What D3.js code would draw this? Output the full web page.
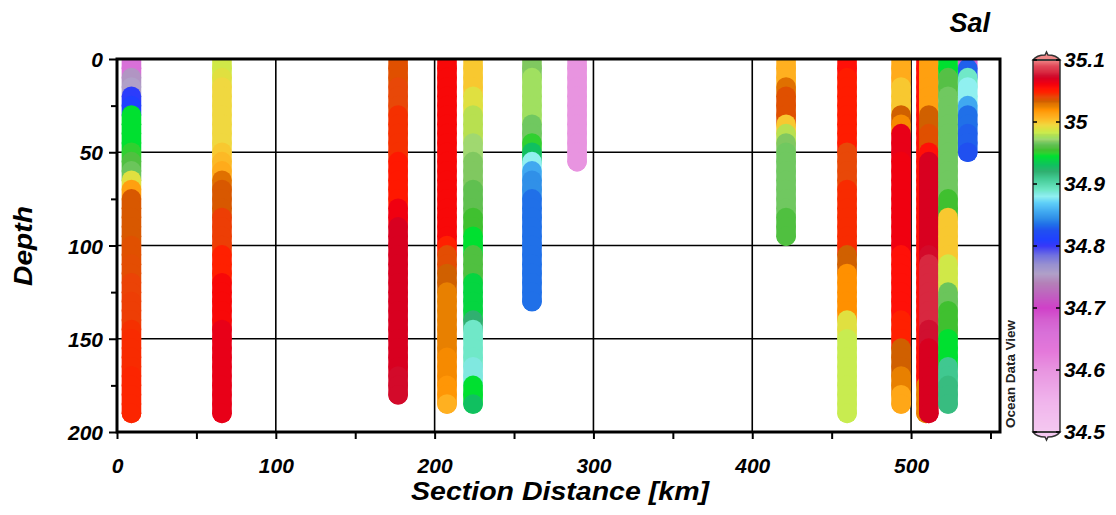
<!DOCTYPE html>
<html><head><meta charset="utf-8">
<script src="https://cdn.jsdelivr.net/npm/d3@7"></script>
<style>
html,body{margin:0;padding:0;background:#fff;}
text{font-family:"Liberation Sans",Arial,sans-serif;font-weight:bold;font-style:italic;fill:#000;}
</style></head><body>
<svg id="chart" width="1116" height="515"></svg>
<script>
// ---------- data ----------
const depthLevels = [0,5,10,15,20,25,30,35,40,45,50,55,60,65,70,75,80,85,90,95,100,105,110,115,120,125,130,135,140,145,150,155,160,165,170,175,180,185,190];
const stationKm = [9.1, 66.1, 177, 207.8, 224.2, 261.3, 289.7, 421.3, 459.7, 493.7, 509.4, 511.2, 523.3, 535.7];

const salSt1 = [34.66,34.66,34.75,34.755,34.805,34.81,34.945,34.945,34.945,34.945,34.95,34.958,34.965,34.99,35.015,35.035,35.035,35.035,35.035,35.035,35.037,35.037,35.038,35.038,35.041,35.041,35.042,35.042,35.042,35.045,35.046,35.046,35.046,35.046,35.047,35.047,35.047,35.047,35.047];
const salSt2 = [34.985,34.985,34.99,34.995,34.995,34.995,34.995,34.995,34.995,34.995,35.0,35.005,35.01,35.03,35.035,35.035,35.035,35.042,35.042,35.042,35.042,35.048,35.048,35.048,35.058,35.058,35.058,35.058,35.058,35.065,35.065,35.065,35.065,35.065,35.065,35.065,35.065,35.065,35.065];
const salSt3 = [35.037,35.037,35.037,35.04,35.04,35.04,35.045,35.045,35.045,35.045,35.045,35.052,35.052,35.052,35.052,35.052,35.062,35.062,35.07,35.07,35.07,35.07,35.07,35.07,35.07,35.07,35.07,35.07,35.07,35.07,35.07,35.07,35.07,35.07,35.073,35.073,35.073];
const salSt4 = [35.058,35.058,35.058,35.058,35.058,35.058,35.058,35.058,35.058,35.058,35.058,35.058,35.058,35.058,35.058,35.058,35.058,35.058,35.058,35.058,35.048,35.038,35.038,35.033,35.033,35.025,35.025,35.025,35.025,35.025,35.025,35.025,35.022,35.022,35.022,35.018,35.018,35.008];
const salSt5 = [35.0,35.0,35.0,35.0,34.99,34.99,34.98,34.98,34.98,34.972,34.972,34.968,34.968,34.968,34.963,34.963,34.963,34.955,34.955,34.945,34.945,34.958,34.958,34.958,34.94,34.94,34.94,34.94,34.92,34.89,34.89,34.89,34.89,34.885,34.885,34.945,34.945,34.93];
const salSt6 = [34.968,34.968,34.975,34.975,34.975,34.975,34.975,34.966,34.966,34.95,34.93,34.88,34.855,34.845,34.845,34.835,34.835,34.835,34.835,34.835,34.835,34.835,34.835,34.835,34.835,34.835,34.835];
const salSt7 = [34.6,34.6,34.6,34.6,34.6,34.6,34.6,34.6,34.6,34.6,34.6,34.6];
const salSt8 = [35.008,35.008,35.008,35.03,35.037,35.037,35.037,35.0,34.98,34.968,34.966,34.966,34.966,34.966,34.966,34.966,34.966,34.958,34.958,34.958];
const salSt9 = [35.055,35.055,35.05,35.05,35.05,35.05,35.05,35.05,35.05,35.05,35.04,35.04,35.04,35.04,35.046,35.046,35.046,35.046,35.046,35.046,35.046,35.033,35.033,35.02,35.02,35.02,35.02,35.02,34.99,34.99,34.982,34.982,34.982,34.982,34.982,34.982,34.982,34.982,34.982];
const salSt10 = [35.01,35.01,35.01,35.0,35.0,35.0,35.033,35.022,35.065,35.065,35.065,35.062,35.062,35.062,35.062,35.062,35.062,35.062,35.062,35.062,35.062,35.055,35.055,35.055,35.055,35.055,35.055,35.055,35.048,35.048,35.048,35.033,35.033,35.033,35.025,35.025,35.012,35.012];
const salSt11 = [35.055,35.055,35.055,35.055,35.055,35.055,35.055,35.055,35.055,35.055,35.055,35.055,35.055,35.055,35.055,35.055,35.055,35.055,35.055,35.055,35.055,35.055,35.055,35.055,35.055,35.055,35.055,35.055,35.055,35.055,35.055,35.055,35.055,35.055,35.055,35.025,35.025,35.025,35.025];
const salSt12 = [35.015,35.015,35.015,35.015,35.015,35.015,35.033,35.033,35.037,35.037,35.055,35.07,35.07,35.07,35.07,35.07,35.07,35.07,35.07,35.07,35.07,35.073,35.08,35.08,35.08,35.08,35.08,35.08,35.08,35.075,35.075,35.07,35.07,35.07,35.07,35.07,35.07,35.07,35.07];
const salSt13 = [34.945,34.945,34.96,34.96,34.966,34.966,34.966,34.966,34.966,34.966,34.966,34.966,34.966,34.966,34.966,34.955,34.955,35.0,35.0,35.0,35.0,35.0,34.985,34.985,34.985,34.965,34.965,34.955,34.955,34.955,34.945,34.945,34.945,34.91,34.91,34.915,34.915,34.915];
const salSt14 = [34.68,34.83,34.89,34.88,34.88,34.855,34.835,34.835,34.83,34.83,34.825];

const stationSal = [salSt1,salSt2,salSt3,salSt4,salSt5,salSt6,salSt7,salSt8,salSt9,salSt10,salSt11,salSt12,salSt13,salSt14];

const xTickValues = [0,50,100,150,200,250,300,350,400,450,500,550];
const yTickValues = [0,25,50,75,100,125,150,175,200];
const xGridValues = [100,200,300,400,500];
const yGridValues = [50,100,150];
const colorbarTicks = [34.5,34.6,34.7,34.8,34.9,35.0,35.1];

// colour palette (ODV-like)
const salPalette = [
 [34.5,"#f4c8f0"],[34.55,"#f0b4ec"],[34.6,"#e894e0"],[34.63,"#e478da"],[34.66,"#d870d8"],[34.68,"#d460d0"],
 [34.7,"#d040c8"],[34.72,"#c060c0"],[34.74,"#b480b8"],[34.755,"#b0a0c8"],[34.77,"#9890d0"],[34.785,"#7070e0"],
 [34.8,"#3838f8"],[34.81,"#2040ff"],[34.825,"#2050f0"],[34.835,"#2070e8"],[34.845,"#3090e8"],[34.855,"#40a8f0"],
 [34.87,"#60d0f8"],[34.88,"#90f0f0"],[34.885,"#80e8e0"],[34.89,"#70e8c8"],[34.91,"#40c890"],[34.92,"#30b070"],
 [34.93,"#10c060"],[34.945,"#00e030"],[34.95,"#30d030"],[34.955,"#40c030"],[34.958,"#50c040"],[34.963,"#60c050"],
 [34.966,"#70c860"],[34.968,"#80c860"],[34.972,"#a0d870"],[34.975,"#a0e060"],[34.98,"#b8e050"],[34.982,"#c8ec50"],
 [34.985,"#d0e848"],[34.99,"#e0e040"],[34.995,"#f0d840"],[35.0,"#f8c830"],[35.008,"#ffb020"],[35.015,"#ffa010"],
 [35.02,"#ff9000"],[35.025,"#e88000"],[35.03,"#e07000"],[35.033,"#d06000"],[35.037,"#e05000"],[35.04,"#e84808"],
 [35.045,"#f53000"],[35.048,"#ff2000"],[35.052,"#ff1800"],[35.055,"#ff1008"],[35.058,"#f80808"],[35.062,"#f00010"],
 [35.065,"#e80018"],[35.07,"#d80020"],[35.075,"#d01030"],[35.08,"#d82840"],[35.09,"#e04858"],[35.1,"#f08888"]
];

// ---------- drawing ----------
const svg = d3.select("#chart");
const L = 117, R = 1000, T = 59, B = 432;
const DOT_R = 9.8;
const x = d3.scaleLinear().domain([0, 556]).range([L, R]);
const y = d3.scaleLinear().domain([0, 200]).range([T, B]);
const color = d3.scaleLinear().domain(salPalette.map(d => d[0])).range(salPalette.map(d => d[1])).clamp(true);

svg.append("defs").append("clipPath").attr("id", "plotclip")
  .append("rect").attr("x", L).attr("y", T).attr("width", R - L).attr("height", B - T);

// grid
const grid = svg.append("g");
grid.selectAll(".hg").data(yGridValues).join("line")
  .attr("x1", L).attr("x2", R).attr("y1", d => y(d)).attr("y2", d => y(d))
  .attr("stroke", "#000").attr("stroke-width", 1.6);
grid.selectAll(".vg").data(xGridValues).join("line")
  .attr("y1", T).attr("y2", B).attr("x1", d => x(d)).attr("x2", d => x(d))
  .attr("stroke", "#000").attr("stroke-width", 1.6);

// station samples: each sample is the dot swept down to the next sample depth
const dots = svg.append("g").attr("clip-path", "url(#plotclip)");
stationSal.forEach((sal, i) => {
  const pts = sal.map((s, j) => ({
    depth: depthLevels[j],
    next: j < sal.length - 1 ? depthLevels[j + 1] : depthLevels[j],
    sal: s
  }));
  dots.append("g").selectAll("rect")
    .data(pts)
    .join("rect")
    .attr("x", x(stationKm[i]) - DOT_R)
    .attr("width", DOT_R * 2)
    .attr("y", d => y(d.depth) - DOT_R)
    .attr("height", d => y(d.next) - y(d.depth) + DOT_R * 2)
    .attr("rx", DOT_R).attr("ry", DOT_R)
    .attr("fill", d => color(d.sal));
});

// frame
svg.append("rect").attr("x", L).attr("y", T).attr("width", R - L).attr("height", B - T)
  .attr("fill", "none").attr("stroke", "#000").attr("stroke-width", 3);

// x axis
const xAxis = d3.axisBottom(x).tickValues(xTickValues).tickSize(7)
  .tickFormat(d => d % 100 === 0 ? d : "");
svg.append("g").attr("transform", `translate(0,${B})`).call(xAxis)
  .call(g => g.select(".domain").remove())
  .call(g => g.selectAll(".tick line").attr("stroke", "#000").attr("stroke-width", 2))
  .call(g => g.selectAll(".tick text").attr("y", 26).attr("font-size", 21)
     .attr("font-family", null).style("fill", "#000"));

// y axis
const yAxis = d3.axisLeft(y).tickValues(yTickValues).tickSize(8)
  .tickFormat(d => d % 50 === 0 ? d : "");
svg.append("g").attr("transform", `translate(${L},0)`).call(yAxis)
  .call(g => g.select(".domain").remove())
  .call(g => g.selectAll(".tick line").attr("stroke", "#000").attr("stroke-width", 2)
     .attr("x2", d => d % 50 === 0 ? -8 : -6))
  .call(g => g.selectAll(".tick text").attr("x", -14).attr("dy", "0.36em").attr("font-size", 21)
     .attr("font-family", null).style("fill", "#000"));

// axis titles
svg.append("text").attr("x", 560).attr("y", 500).attr("text-anchor", "middle")
  .attr("font-size", 26).attr("textLength", 298).attr("lengthAdjust", "spacingAndGlyphs")
  .text("Section Distance [km]");
svg.append("text").attr("transform", "translate(32,246) rotate(-90)").attr("text-anchor", "middle")
  .attr("font-size", 26).attr("textLength", 80).attr("lengthAdjust", "spacingAndGlyphs")
  .text("Depth");
svg.append("text").attr("x", 990).attr("y", 32).attr("text-anchor", "end")
  .attr("font-size", 27).text("Sal");
svg.append("text").attr("transform", "translate(1015,428) rotate(-90)")
  .attr("font-size", 12).attr("textLength", 108).attr("lengthAdjust", "spacingAndGlyphs")
  .style("font-style", "normal").style("font-weight", "bold").style("fill", "#222")
  .text("Ocean Data View");

// colorbar
const cbX0 = 1033, cbX1 = 1060, cbT = 60, cbB = 432;
const cbY = d3.scaleLinear().domain([34.5, 35.1]).range([cbB, cbT]);
const cb = svg.append("g");
cb.selectAll("rect.cb").data(d3.range(cbT, cbB)).join("rect")
  .attr("x", cbX0).attr("y", d => d).attr("width", cbX1 - cbX0).attr("height", 1.2)
  .attr("fill", d => color(cbY.invert(d + 0.5)));
cb.append("path")
  .attr("d", `M${cbX0},${cbT} C${cbX0+3},${cbT-4} ${cbX0+9},${cbT-5} ${cbX0+12},${cbT-5} L${cbX0+13.5},${cbT-8} L${cbX0+15},${cbT-5} C${cbX0+18},${cbT-5} ${cbX1-3},${cbT-4} ${cbX1},${cbT} Z`)
  .attr("fill", color(35.1)).attr("stroke", "#333").attr("stroke-width", 1.5);
cb.append("path")
  .attr("d", `M${cbX0},${cbB} C${cbX0+3},${cbB+4} ${cbX0+9},${cbB+5} ${cbX0+12},${cbB+5} L${cbX0+13.5},${cbB+8} L${cbX0+15},${cbB+5} C${cbX0+18},${cbB+5} ${cbX1-3},${cbB+4} ${cbX1},${cbB} Z`)
  .attr("fill", color(34.5)).attr("stroke", "#333").attr("stroke-width", 1.5);
cb.append("rect").attr("x", cbX0).attr("y", cbT).attr("width", cbX1 - cbX0).attr("height", cbB - cbT)
  .attr("fill", "none").attr("stroke", "#333").attr("stroke-width", 1.5);
cb.selectAll("line.tl").data(colorbarTicks).join("line")
  .attr("x1", cbX0).attr("x2", cbX0 + 4).attr("y1", d => cbY(d)).attr("y2", d => cbY(d))
  .attr("stroke", "#000").attr("stroke-width", 1.5);
cb.selectAll("line.tr").data(colorbarTicks).join("line")
  .attr("x1", cbX1 - 4).attr("x2", cbX1).attr("y1", d => cbY(d)).attr("y2", d => cbY(d))
  .attr("stroke", "#000").attr("stroke-width", 1.5);
cb.selectAll("text").data(colorbarTicks).join("text")
  .attr("x", cbX1 + 4).attr("y", d => cbY(d) - 1).attr("dy", "0.36em")
  .attr("font-size", 21).text(d => d3.format("~g")(d));
</script>
</body></html>
